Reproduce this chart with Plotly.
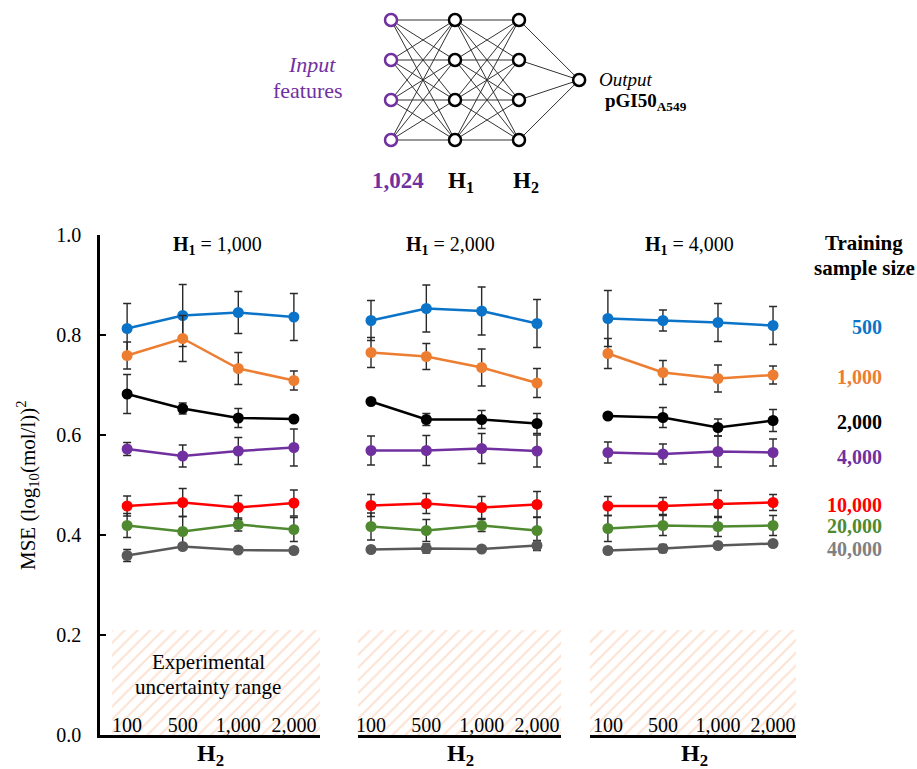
import plotly.graph_objects as go

# ---------------- data ----------------
H2_LABELS = ["100", "500", "1,000", "2,000"]
H1_VALUES = ["1,000", "2,000", "4,000"]
SAMPLE_SIZES = ["500", "1,000", "2,000", "4,000", "10,000", "20,000", "40,000"]

# MSE per training sample size (rows) for H2 = 100, 500, 1,000, 2,000 (cols)
MSE_H1_1000 = [
    [0.813, 0.839, 0.845, 0.836],
    [0.759, 0.793, 0.733, 0.709],
    [0.682, 0.653, 0.634, 0.632],
    [0.572, 0.558, 0.568, 0.575],
    [0.458, 0.465, 0.455, 0.464],
    [0.419, 0.407, 0.421, 0.411],
    [0.359, 0.377, 0.370, 0.369],
]
ERR_H1_1000 = [
    [0.050, 0.062, 0.042, 0.047],
    [0.027, 0.046, 0.032, 0.019],
    [0.039, 0.011, 0.019, 0.005],
    [0.013, 0.022, 0.027, 0.037],
    [0.020, 0.028, 0.024, 0.026],
    [0.024, 0.030, 0.013, 0.024],
    [0.012, 0.005, 0.004, 0.005],
]
MSE_H1_2000 = [
    [0.829, 0.853, 0.848, 0.823],
    [0.765, 0.757, 0.735, 0.704],
    [0.667, 0.631, 0.631, 0.623],
    [0.569, 0.569, 0.573, 0.568],
    [0.459, 0.463, 0.455, 0.461],
    [0.417, 0.409, 0.419, 0.409],
    [0.371, 0.373, 0.372, 0.379],
]
ERR_H1_2000 = [
    [0.040, 0.047, 0.048, 0.048],
    [0.030, 0.026, 0.037, 0.029],
    [0.005, 0.012, 0.018, 0.020],
    [0.029, 0.030, 0.030, 0.032],
    [0.022, 0.020, 0.022, 0.026],
    [0.027, 0.022, 0.012, 0.027],
    [0.005, 0.009, 0.003, 0.010],
]
MSE_H1_4000 = [
    [0.833, 0.829, 0.825, 0.819],
    [0.763, 0.725, 0.713, 0.720],
    [0.638, 0.635, 0.615, 0.629],
    [0.565, 0.562, 0.567, 0.565],
    [0.458, 0.458, 0.462, 0.465],
    [0.413, 0.419, 0.417, 0.419],
    [0.369, 0.373, 0.379, 0.383],
]
ERR_H1_4000 = [
    [0.056, 0.021, 0.038, 0.038],
    [0.030, 0.024, 0.027, 0.018],
    [0.005, 0.020, 0.017, 0.022],
    [0.021, 0.020, 0.031, 0.027],
    [0.019, 0.017, 0.027, 0.016],
    [0.026, 0.020, 0.020, 0.020],
    [0.006, 0.008, 0.003, 0.003],
]
UNCERTAINTY_TOP = 0.21

# network diagram
NET_LAYERS = ["1,024", "H1", "H2", "Output"]
NET_ROWS = [0, 1, 2, 3]
NET_OUT_ROW = 1.5

# ---------------- styles ----------------
W, H = 917, 769
SERIF = "Liberation Serif"
LINE_COLORS = ["#0B74C8", "#ED7D31", "#000000", "#7030A0", "#FF0000", "#4F8A30", "#595959"]
LABEL_COLORS = ["#0B74C8", "#ED7D31", "#000000", "#7030A0", "#FF0000", "#4F8A30", "#808080"]
LABEL_Y = [0.816, 0.716, 0.626, 0.556, 0.461, 0.418, 0.372]
PURPLE = "#7030A0"


def px(x):
    return x / W


def py(y):
    return 1 - y / H


fig = go.Figure()

panels = [
    (MSE_H1_1000, ERR_H1_1000, "x", [-0.27, 3.6]),
    (MSE_H1_2000, ERR_H1_2000, "x2", [-0.4, 3.6]),
    (MSE_H1_4000, ERR_H1_4000, "x3", [-0.4, 3.6]),
]
xs = [0, 1, 2, 3]

for mse, err, xa, hatch in panels:
    fig.add_trace(go.Scatter(
        x=[hatch[0], hatch[1], hatch[1], hatch[0], hatch[0]],
        y=[0, 0, UNCERTAINTY_TOP, UNCERTAINTY_TOP, 0],
        mode="lines", fill="toself", fillcolor="white",
        fillpattern=dict(shape="/", fgcolor="#F8C6A8", bgcolor="white", size=9, solidity=0.22),
        line=dict(width=0), xaxis=xa, yaxis="y", hoverinfo="skip", showlegend=False,
    ))
    for k in range(len(SAMPLE_SIZES)):
        fig.add_trace(go.Scatter(
            x=xs, y=mse[k], mode="lines+markers",
            line=dict(color=LINE_COLORS[k], width=2.5),
            marker=dict(color=LINE_COLORS[k], size=11),
            error_y=dict(type="data", array=err[k], color="#2A2A2A", thickness=1.4, width=4),
            xaxis=xa, yaxis="y", showlegend=False, name=SAMPLE_SIZES[k],
        ))

# ---------------- network diagram ----------------
layer_x = [0, 1, 2, 2.94]
ex, ey = [], []
for a in range(2):
    for r1 in NET_ROWS:
        for r2 in NET_ROWS:
            ex += [layer_x[a], layer_x[a + 1], None]
            ey += [r1, r2, None]
for r in NET_ROWS:
    ex += [layer_x[2], layer_x[3], None]
    ey += [r, NET_OUT_ROW, None]
fig.add_trace(go.Scatter(x=ex, y=ey, mode="lines", line=dict(color="#333333", width=1),
                         xaxis="x4", yaxis="y4", hoverinfo="skip", showlegend=False))
fig.add_trace(go.Scatter(
    x=[layer_x[0]] * 4, y=NET_ROWS, mode="markers",
    marker=dict(size=12, color="white", line=dict(color=PURPLE, width=2.5)),
    xaxis="x4", yaxis="y4", hoverinfo="skip", showlegend=False))
fig.add_trace(go.Scatter(
    x=[layer_x[1]] * 4 + [layer_x[2]] * 4 + [layer_x[3]],
    y=NET_ROWS + NET_ROWS + [NET_OUT_ROW], mode="markers",
    marker=dict(size=12, color="white", line=dict(color="black", width=2.5)),
    xaxis="x4", yaxis="y4", hoverinfo="skip", showlegend=False))

# ---------------- axes ----------------
common_x = dict(anchor="y", tickvals=xs, ticktext=H2_LABELS, ticklabelposition="inside",
                ticklabeloverflow="allow", automargin=False,
                ticks="", showline=True, linecolor="black", linewidth=2.5, showgrid=False,
                zeroline=False, tickfont=dict(family=SERIF, size=20, color="black"),
                fixedrange=True)
fig.update_layout(
    width=W, height=H, margin=dict(l=0, r=0, t=0, b=0, pad=0, autoexpand=False), autosize=False,
    paper_bgcolor="white", plot_bgcolor="rgba(0,0,0,0)",
    font=dict(family=SERIF, color="black"),
    xaxis=dict(domain=[px(100), px(320)], range=[-0.488, 3.47], **common_x),
    xaxis2=dict(domain=[px(358), px(561)], range=[-0.235, 3.434], **common_x),
    xaxis3=dict(domain=[px(590), px(796)], range=[-0.325, 3.417], **common_x),
    yaxis=dict(domain=[py(735), py(235)], range=[0, 1.0], anchor="x", automargin=False,
               tickvals=[0, 0.2, 0.4, 0.6, 0.8, 1.0], tickformat=".1f",
               ticks="inside", ticklen=6, tickwidth=2, tickcolor="black",
               showline=True, linecolor="black", linewidth=2.5,
               showgrid=False, zeroline=False, ticklabelstandoff=12,
               tickfont=dict(family=SERIF, size=20, color="black"), fixedrange=True),
    xaxis4=dict(domain=[px(327), px(647)], range=[-1, 4], anchor="y4", visible=False,
                automargin=False, fixedrange=True),
    yaxis4=dict(domain=[py(200), py(0)], range=[4.5, -0.5], anchor="x4", visible=False,
                automargin=False, fixedrange=True),
)

ann = []


def text(x, y, t, size, color="black", xanchor="center", angle=0):
    ann.append(dict(x=px(x), y=py(y), xref="paper", yref="paper", text=t, showarrow=False,
                    xanchor=xanchor, yanchor="middle", textangle=angle,
                    font=dict(family=SERIF, size=size, color=color)))


# panel headers
for cx, v in zip([217, 450, 689], H1_VALUES):
    text(cx, 245, "<b>H</b><sub><b>1</b></sub> = " + v, 20)
# H2 axis titles
for cx in [210, 460, 694]:
    text(cx, 755, "<b>H</b><sub><b>2</b></sub>", 24)
# uncertainty text
text(208, 662, "Experimental", 21)
text(208, 687, "uncertainty range", 21)
# y title
text(28, 485, "MSE (log<sub>10</sub>(mol/l))<sup>2</sup>", 21, angle=-90)
# training sample size labels
text(864, 243, "<b>Training</b>", 21)
text(864, 268, "<b>sample size</b>", 21)
for lab, col, ly in zip(SAMPLE_SIZES, LABEL_COLORS, LABEL_Y):
    ann.append(dict(x=px(884), y=ly, xref="paper", yref="y", text="<b>" + lab + "</b>",
                    showarrow=False, xanchor="right", yanchor="middle",
                    font=dict(family=SERIF, size=20, color=col)))
# diagram labels
text(312, 64, "<i>Input</i>", 22, PURPLE)
text(308, 91, "features", 22, PURPLE)
text(398, 180, "<b>" + NET_LAYERS[0] + "</b>", 23, PURPLE)
text(461, 182, "<b>H</b><sub><b>1</b></sub>", 23)
text(526, 182, "<b>H</b><sub><b>2</b></sub>", 23)
text(597, 79, "<i>" + NET_LAYERS[3] + "</i>", 19, xanchor="left")
text(603, 102, "<b>pGI50</b><sub><b>A549</b></sub>", 19, xanchor="left")

fig.update_layout(annotations=ann)
fig.write_html(
    "out.html",
    config={"responsive": False, "displayModeBar": False},
    post_script="document.body.style.margin='0';document.body.style.overflow='hidden';",
)
